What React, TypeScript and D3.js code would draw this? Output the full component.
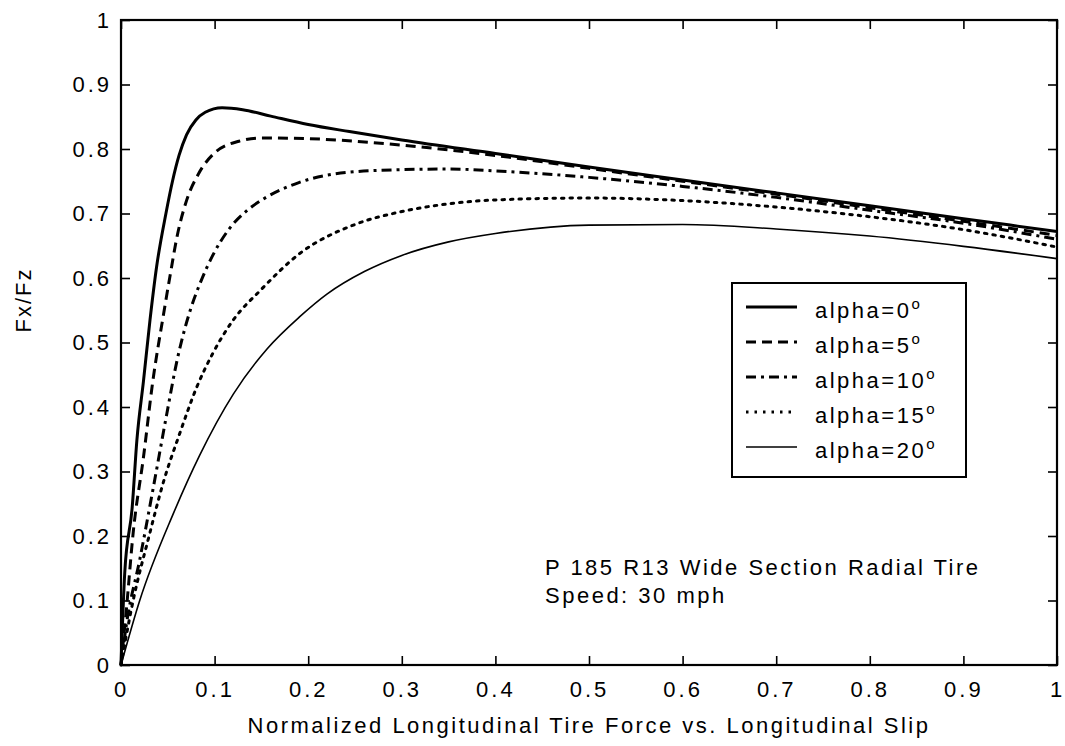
import React, { useRef, useEffect } from 'react';
import * as d3 from 'd3';

// normalized longitudinal slip vs Fx/Fz
const alpha0: [number, number][] = [
  [0, 0], [0.004, 0.143], [0.012, 0.245], [0.017, 0.349], [0.024, 0.44], [0.031, 0.535],
  [0.038, 0.617], [0.048, 0.7], [0.055, 0.75], [0.062, 0.79], [0.07, 0.822], [0.08, 0.845],
  [0.09, 0.857], [0.108, 0.864], [0.13, 0.861], [0.16, 0.851], [0.2, 0.838], [0.244, 0.827],
  [0.3, 0.814], [0.4, 0.793], [0.5, 0.772], [0.6, 0.752], [0.7, 0.732], [0.8, 0.712],
  [0.9, 0.692], [1, 0.672],
];
const alpha5: [number, number][] = [
  [0, 0], [0.006, 0.09], [0.013, 0.205], [0.024, 0.322], [0.034, 0.44], [0.045, 0.54],
  [0.052, 0.6], [0.06, 0.665], [0.07, 0.72], [0.083, 0.762], [0.1, 0.794], [0.126, 0.812],
  [0.15, 0.817], [0.2, 0.816], [0.25, 0.812], [0.3, 0.806], [0.4, 0.79], [0.5, 0.77],
  [0.6, 0.75], [0.7, 0.73], [0.8, 0.709], [0.9, 0.688], [1, 0.666],
];
const alpha10: [number, number][] = [
  [0, 0], [0.006, 0.065], [0.02, 0.163], [0.034, 0.271], [0.049, 0.39], [0.06, 0.473],
  [0.074, 0.55], [0.084, 0.59], [0.098, 0.635], [0.115, 0.675], [0.135, 0.705], [0.155, 0.725],
  [0.19, 0.748], [0.244, 0.764], [0.3, 0.768], [0.35, 0.769], [0.4, 0.766], [0.5, 0.756],
  [0.6, 0.742], [0.7, 0.725], [0.8, 0.705], [0.9, 0.685], [1, 0.66],
];
const alpha15: [number, number][] = [
  [0, 0], [0.013, 0.1], [0.03, 0.2], [0.045, 0.282], [0.063, 0.36], [0.081, 0.431],
  [0.098, 0.483], [0.12, 0.535], [0.149, 0.581], [0.191, 0.638], [0.25, 0.683], [0.3, 0.703],
  [0.35, 0.715], [0.4, 0.721], [0.5, 0.724], [0.6, 0.72], [0.7, 0.71], [0.8, 0.695],
  [0.9, 0.675], [1, 0.648],
];
const alpha20: [number, number][] = [
  [0, 0], [0.02, 0.1], [0.056, 0.235], [0.084, 0.325], [0.12, 0.42], [0.156, 0.49],
  [0.191, 0.54], [0.22, 0.575], [0.26, 0.61], [0.3, 0.635], [0.35, 0.656], [0.4, 0.669],
  [0.5, 0.682], [0.6, 0.683], [0.7, 0.676], [0.8, 0.665], [0.9, 0.649], [1, 0.63],
];

const seriesData = [alpha0, alpha5, alpha10, alpha15, alpha20];
const legendLabels = ['alpha=0', 'alpha=5', 'alpha=10', 'alpha=15', 'alpha=20'];
const dashes = ['none', '10,6', '10,5,3,5', '2.5,6', 'none'];
const widths = [3, 3, 3, 3, 1.6];

const xTicks = [0, 0.1, 0.2, 0.3, 0.4, 0.5, 0.6, 0.7, 0.8, 0.9, 1];
const yTicks = [0, 0.1, 0.2, 0.3, 0.4, 0.5, 0.6, 0.7, 0.8, 0.9, 1];

const noteLines = ['P 185 R13 Wide Section Radial Tire', 'Speed: 30 mph'];
const xTitle = 'Normalized Longitudinal Tire Force vs. Longitudinal Slip';
const yTitle = 'Fx/Fz';

const FONT = '"Liberation Sans", Arial, Helvetica, sans-serif';

export default function App() {
  const ref = useRef<SVGSVGElement>(null);

  useEffect(() => {
    if (!ref.current) return;
    const svg = d3.select(ref.current);
    svg.selectAll('*').remove();

    const left = 121, right = 1057, top = 20, bottom = 665;
    const x = d3.scaleLinear().domain([0, 1]).range([left, right]);
    const y = d3.scaleLinear().domain([0, 1]).range([bottom, top]);
    const fmt = d3.format('~g');

    const styleAxis = (g: any) => {
      g.select('.domain').remove();
      g.selectAll('line').attr('stroke', '#000').attr('stroke-width', 1.6);
      g.selectAll('text')
        .attr('fill', '#000')
        .style('font-family', FONT)
        .style('font-size', '22px')
        .style('letter-spacing', '3px');
    };

    svg.append('g')
      .attr('transform', `translate(0,${bottom})`)
      .call(d3.axisBottom(x).tickValues(xTicks).tickFormat(fmt as any).tickSize(-9).tickPadding(16))
      .call(styleAxis);
    svg.append('g')
      .attr('transform', `translate(${left},0)`)
      .call(d3.axisLeft(y).tickValues(yTicks).tickFormat(fmt as any).tickSize(-9).tickPadding(9))
      .call(styleAxis);
    svg.append('g')
      .attr('transform', `translate(0,${top})`)
      .call(d3.axisTop(x).tickValues(xTicks).tickFormat(() => '').tickSize(-9))
      .call(styleAxis);
    svg.append('g')
      .attr('transform', `translate(${right},0)`)
      .call(d3.axisRight(y).tickValues(yTicks).tickFormat(() => '').tickSize(-9))
      .call(styleAxis);

    svg.append('rect')
      .attr('x', left).attr('y', top)
      .attr('width', right - left).attr('height', bottom - top)
      .attr('fill', 'none').attr('stroke', '#000').attr('stroke-width', 2.2);

    const line = d3.line<[number, number]>()
      .x(d => x(d[0]))
      .y(d => y(d[1]))
      .curve(d3.curveMonotoneX);

    seriesData.forEach((s, i) => {
      svg.append('path')
        .datum(s)
        .attr('d', line)
        .attr('fill', 'none')
        .attr('stroke', '#000')
        .attr('stroke-width', widths[i])
        .attr('stroke-dasharray', dashes[i])
        .attr('stroke-linecap', dashes[i] === '2.5,6' ? 'round' : 'butt');
    });

    // legend
    const lg = svg.append('g');
    lg.append('rect')
      .attr('x', 732).attr('y', 283).attr('width', 234).attr('height', 194)
      .attr('fill', '#fff').attr('stroke', '#000').attr('stroke-width', 2);
    legendLabels.forEach((lab, i) => {
      const base = 318 + i * 35;
      lg.append('line')
        .attr('x1', 746).attr('x2', 797)
        .attr('y1', base - 11).attr('y2', base - 11)
        .attr('stroke', '#000')
        .attr('stroke-width', widths[i])
        .attr('stroke-dasharray', dashes[i]);
      const t = lg.append('text')
        .attr('x', 815).attr('y', base)
        .attr('fill', '#000')
        .style('font-family', FONT)
        .style('font-size', '22px')
        .style('letter-spacing', '2.5px');
      t.append('tspan').text(lab);
      t.append('tspan').attr('dy', -9).style('font-size', '15px').text('o');
    });

    // annotation
    noteLines.forEach((s, i) => {
      svg.append('text')
        .attr('x', 545).attr('y', 575 + i * 28)
        .attr('fill', '#000')
        .style('font-family', FONT)
        .style('font-size', '22px')
        .style('letter-spacing', '2.5px')
        .text(s);
    });

    svg.append('text')
      .attr('x', (left + right) / 2).attr('y', 733)
      .attr('text-anchor', 'middle')
      .attr('fill', '#000')
      .style('font-family', FONT)
      .style('font-size', '22px')
      .style('letter-spacing', '2.5px')
      .text(xTitle);

    svg.append('text')
      .attr('transform', 'translate(31,300) rotate(-90)')
      .attr('text-anchor', 'middle')
      .attr('fill', '#000')
      .style('font-family', FONT)
      .style('font-size', '22px')
      .style('letter-spacing', '2px')
      .text(yTitle);
  }, []);

  return (
    <div style={{ position: 'absolute', left: 0, top: 0, background: '#fff' }}>
      <svg ref={ref} width={1065} height={746} style={{ display: 'block' }} />
    </div>
  );
}
